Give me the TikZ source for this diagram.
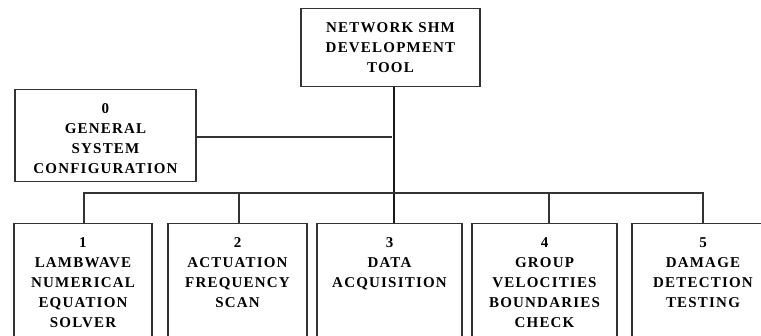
\documentclass[tikz,border=0pt]{standalone}
\usepackage{fontspec}
\newfontfamily\boxfont{Liberation Serif Bold}[LetterSpace=8]
\begin{document}
\begin{tikzpicture}[x=1pt,y=-1pt,
  every node/.style={font=\boxfont\fontsize{15}{20}\selectfont, text=black},
  box/.style={draw=black!80, line width=1.5pt, align=center, inner sep=0pt, anchor=north, text height=24pt},
  conn/.style={draw=black!80, line width=1.5pt},
  trunkline/.style={draw=black!90, line width=2pt}]
\useasboundingbox (0,0) rectangle (761,336);
\clip (0,0) rectangle (761,336);
\node[box, text width=179pt, text depth=54pt] (top) at (390.5,8) {NETWORK SHM\\DEVELOPMENT\\TOOL};
\node[box, text width=181pt, text depth=68pt] (gen) at (105.5,89) {0\\GENERAL\\SYSTEM\\CONFIGURATION};
\node[box, text depth=120pt, text width=138pt] (b1) at (83,223) {1\\LAMBWAVE\\NUMERICAL\\EQUATION\\SOLVER};
\node[box, text depth=120pt, text width=139pt] (b2) at (237.5,223) {2\\ACTUATION\\FREQUENCY\\SCAN};
\node[box, text depth=120pt, text width=145pt] (b3) at (389.5,223) {3\\DATA\\ACQUISITION};
\node[box, text depth=120pt, text width=145pt] (b4) at (544.5,223) {4\\GROUP\\VELOCITIES\\BOUNDARIES\\CHECK};
\node[box, text depth=120pt, text width=142pt] (b5) at (703,223) {5\\DAMAGE\\DETECTION\\TESTING};
\coordinate (trunk) at (394,137);
\coordinate (bus1) at (84,193);
\coordinate (bus2) at (239,193);
\coordinate (bus4) at (549,193);
\coordinate (bus5) at (703,193);
\draw[trunkline] (top.south -| trunk) -- (b3.north -| trunk);
\draw[conn] (gen.east |- trunk) -- ([xshift=-2pt]trunk);
\draw[conn] (b1.north -| bus1) -- (bus1) -- (bus5) -- (b5.north -| bus5);
\draw[conn] (bus2) -- (b2.north -| bus2);
\draw[conn] (bus4) -- (b4.north -| bus4);
\end{tikzpicture}
\end{document}
